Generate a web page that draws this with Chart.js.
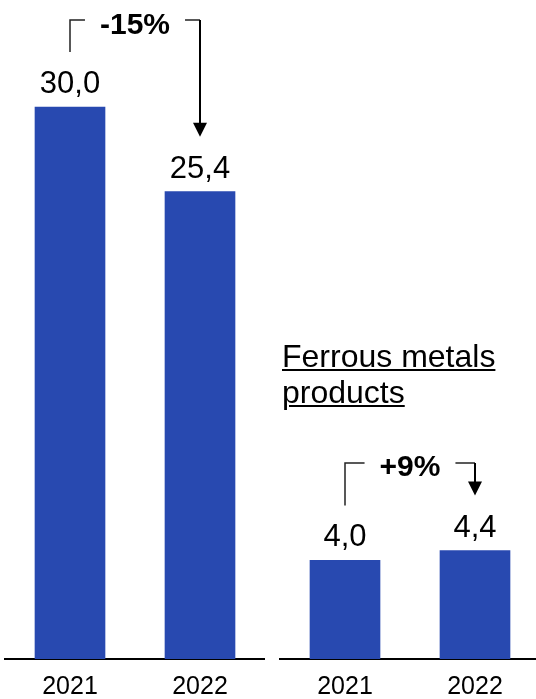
<!DOCTYPE html>
<html>
<head>
<meta charset="utf-8">
<script src="https://cdn.jsdelivr.net/npm/chart.js@4/dist/chart.umd.min.js"></script>
<style>
  html, body { margin: 0; padding: 0; background: #fff; overflow: hidden; width: 536px; height: 699px; }
  #wrap { position: relative; width: 536px; height: 699px; overflow: hidden; }
  #left { position: absolute; left: 0; top: 0; }
  #right { position: absolute; left: 265px; top: 0; }
  .title {
    position: absolute; left: 282px; top: 338px;
    font: 32px/36px "Liberation Sans", Arial, sans-serif; color: #000;
    text-decoration: underline; text-decoration-thickness: 2px; text-underline-offset: 2px;
    white-space: nowrap;
  }
</style>
</head>
<body>
<div id="wrap">
  <canvas id="left" width="265" height="715"></canvas>
  <canvas id="right" width="275" height="715"></canvas>
  <div class="title" id="title"></div>
</div>
<script>
// Data
const years = ['2021', '2022'];
const totalValues = [30.0, 25.4];
const ferrousValues = [4.0, 4.4];
const changeLabels = ['-15%', '+9%'];
const ferrousTitle = ['Ferrous metals', 'products'];

const FONT = '"Liberation Sans", Arial, sans-serif';
const BAR_COLOR = '#2849b0';
const LABEL_GAP = 14;   // distance from bar top to value baseline
const LABEL_CAP = 22;   // cap height of the 31px value labels
const fmt = v => v.toFixed(1).replace('.', ',');

document.getElementById('title').innerHTML = ferrousTitle.join('<br>');

// Value labels above each bar
const barLabels = {
  id: 'barLabels',
  afterDatasetsDraw(chart) {
    const { ctx } = chart;
    const bars = chart.getDatasetMeta(0).data;
    const values = chart.data.datasets[0].data;
    ctx.save();
    ctx.font = '31px ' + FONT;
    ctx.fillStyle = '#000';
    ctx.textAlign = 'center';
    ctx.textBaseline = 'alphabetic';
    bars.forEach((bar, i) => ctx.fillText(fmt(values[i]), bar.x, bar.y - LABEL_GAP));
    ctx.restore();
  }
};

// Bracket with change percentage and arrow pointing to the second bar
const changeBracket = {
  id: 'changeBracket',
  afterDatasetsDraw(chart, args, opts) {
    const { ctx } = chart;
    const bars = chart.getDatasetMeta(0).data;
    const x1 = bars[0].x, x2 = bars[1].x;
    const labelTop1 = bars[0].y - LABEL_GAP - LABEL_CAP;
    const labelTop2 = bars[1].y - LABEL_GAP - LABEL_CAP;
    const yTop = opts.top;
    const mid = (x1 + x2) / 2;
    ctx.save();
    ctx.font = 'bold 30px ' + FONT;
    const tw = ctx.measureText(opts.label).width;
    ctx.fillStyle = '#000';
    ctx.textAlign = 'center';
    ctx.textBaseline = 'alphabetic';
    ctx.fillText(opts.label, mid, yTop + opts.textDrop);

    // left leg
    ctx.strokeStyle = '#222';
    ctx.lineWidth = 1.5;
    ctx.beginPath();
    ctx.moveTo(x1, labelTop1 - 19);
    ctx.lineTo(x1, yTop);
    ctx.lineTo(mid - tw / 2 - 15, yTop);
    ctx.stroke();

    // right leg
    const tip = labelTop2 - 19;
    ctx.beginPath();
    ctx.moveTo(mid + tw / 2 + 15, yTop);
    ctx.lineTo(x2, yTop);
    ctx.stroke();
    ctx.strokeStyle = '#000';
    ctx.lineWidth = 2;
    ctx.beginPath();
    ctx.moveTo(x2, yTop);
    ctx.lineTo(x2, tip - 12);
    ctx.stroke();
    ctx.beginPath();
    ctx.moveTo(x2 - 7, tip - 14);
    ctx.lineTo(x2 + 7, tip - 14);
    ctx.lineTo(x2, tip);
    ctx.closePath();
    ctx.fill();
    ctx.restore();
  }
};

function makeChart(id, values, yMax, padding, bracket) {
  return new Chart(document.getElementById(id), {
    type: 'bar',
    data: {
      labels: years,
      datasets: [{ data: values, backgroundColor: BAR_COLOR, borderWidth: 0, barThickness: 70 }]
    },
    options: {
      responsive: false,
      animation: false,
      layout: { padding },
      plugins: {
        legend: { display: false },
        tooltip: { enabled: false },
        changeBracket: bracket
      },
      scales: {
        x: {
          grid: { display: false, drawTicks: false },
          border: { display: true, color: '#000', width: 2 },
          ticks: { color: '#000', font: { size: 25, family: FONT }, padding: 13 }
        },
        y: { display: false, min: 0, max: yMax }
      }
    },
    plugins: [barLabels, changeBracket]
  });
}

makeChart('left', totalValues, 35, { left: 5, right: 0, top: 15, bottom: 0 },
  { label: changeLabels[0], top: 20, textDrop: 14 });
makeChart('right', ferrousValues, 26, { left: 15, right: 0, top: 18, bottom: 0 },
  { label: changeLabels[1], top: 463, textDrop: 13 });
</script>
</body>
</html>
